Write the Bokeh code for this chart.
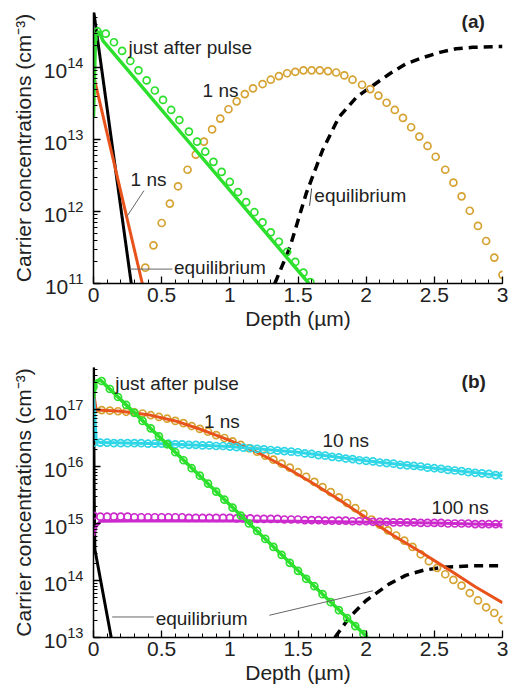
from bokeh.plotting import figure
from bokeh.layouts import column
from bokeh.models import Label, SingleIntervalTicker, LogTicker, NumeralTickFormatter
from bokeh.embed import file_html
from bokeh.resources import INLINE

# ---------------- Panel (a) data (depth in um, log10 of concentration in cm^-3) ----------------
A_EQ_E_X = [0.0, 0.277]
A_EQ_E_LOG = [14.80, 11.0]

A_1NS_E_X = [0.0, 0.358]
A_1NS_E_LOG = [13.89, 11.0]

A_PULSE_LINE_X = [0.0, 0.015, 0.04, 0.07, 1.58]
A_PULSE_LINE_LOG = [13.30, 14.45, 14.50, 14.37, 11.0]

A_PULSE_PTS_X = [0.00, 0.03, 0.09, 0.15, 0.21, 0.27, 0.33, 0.39, 0.45, 0.51, 0.57, 0.63, 0.70,
                 0.76, 0.82, 0.88, 0.94, 1.00, 1.06, 1.12, 1.18, 1.24, 1.30, 1.36, 1.42, 1.48,
                 1.54, 1.59]
A_PULSE_PTS_LOG = [14.40, 14.50, 14.47, 14.35, 14.23, 14.09, 13.96, 13.82, 13.68, 13.55, 13.41,
                   13.27, 13.11, 12.97, 12.83, 12.69, 12.55, 12.41, 12.27, 12.13, 11.99, 11.85,
                   11.71, 11.58, 11.44, 11.30, 11.15, 11.02]

A_1NS_H_X = [0.38, 0.44, 0.50, 0.56, 0.62, 0.69, 0.75, 0.81, 0.87, 0.93, 0.99, 1.05, 1.11, 1.17,
             1.24, 1.30, 1.36, 1.42, 1.48, 1.54, 1.60, 1.66, 1.72, 1.78, 1.84, 1.90, 1.97, 2.03,
             2.09, 2.15, 2.21, 2.27, 2.33, 2.39, 2.45, 2.51, 2.58, 2.64, 2.70, 2.76, 2.82, 2.88,
             2.94, 3.00]
A_1NS_H_LOG = [11.22, 11.53, 11.84, 12.11, 12.35, 12.58, 12.79, 12.97, 13.14, 13.29, 13.42, 13.53,
               13.63, 13.71, 13.77, 13.83, 13.88, 13.92, 13.94, 13.96, 13.96, 13.96, 13.95, 13.93,
               13.89, 13.83, 13.76, 13.70, 13.61, 13.51, 13.41, 13.30, 13.17, 13.04, 12.91, 12.76,
               12.58, 12.40, 12.21, 12.01, 11.80, 11.59, 11.36, 11.12]

A_EQ_H_X = [1.33, 1.44, 1.56, 1.68, 1.80, 1.93, 2.05, 2.17, 2.29, 2.42, 2.54, 2.66, 2.78, 2.96, 3.00]
A_EQ_H_LOG = [11.0, 11.50, 12.25, 12.85, 13.31, 13.59, 13.75, 13.91, 14.05, 14.14, 14.21, 14.26,
              14.28, 14.29, 14.29]

# ---------------- Panel (b) data ----------------
B_EQ_E_X = [0.0, 0.005, 0.01, 0.13]
B_EQ_E_LOG = [17.9, 15.5, 14.55, 13.0]

B_PULSE_LINE_X = [0.0, 0.02, 0.05, 0.08, 2.01]
B_PULSE_LINE_LOG = [17.20, 17.50, 17.52, 17.45, 13.0]

B_PULSE_PTS_X = [0.00, 0.06, 0.12, 0.18, 0.24, 0.30, 0.36, 0.42, 0.48, 0.54, 0.60, 0.66, 0.72,
                 0.78, 0.84, 0.90, 0.96, 1.02, 1.08, 1.14, 1.20, 1.26, 1.32, 1.38, 1.44, 1.50,
                 1.56, 1.62, 1.68, 1.74, 1.80, 1.86, 1.92, 1.98]
B_PULSE_PTS_LOG = [17.40, 17.50, 17.36, 17.22, 17.08, 16.94, 16.80, 16.67, 16.53, 16.39, 16.25,
                   16.11, 15.97, 15.84, 15.70, 15.56, 15.42, 15.28, 15.14, 15.00, 14.87, 14.73,
                   14.59, 14.45, 14.31, 14.17, 14.03, 13.90, 13.76, 13.62, 13.48, 13.34, 13.20,
                   13.06]

B_1NS_LINE_X = [0.0, 0.02, 0.2, 0.4, 0.6, 0.8, 1.0, 1.2, 1.4, 1.6, 1.8, 2.0, 2.2, 2.4, 2.6, 2.8, 3.0]
B_1NS_LINE_LOG = [17.30, 16.99, 16.97, 16.91, 16.80, 16.64, 16.46, 16.25, 16.00, 15.72, 15.42,
                  15.10, 14.79, 14.50, 14.20, 13.89, 13.61]

B_1NS_PTS_X = [0.00, 0.06, 0.12, 0.18, 0.24, 0.30, 0.36, 0.42, 0.48, 0.54, 0.60, 0.66, 0.72, 0.78,
               0.84, 0.90, 0.96, 1.02, 1.08, 1.14, 1.20, 1.26, 1.32, 1.38, 1.44, 1.50, 1.56, 1.62,
               1.68, 1.74, 1.80, 1.86, 1.92, 1.98, 2.04, 2.10, 2.16, 2.22, 2.28, 2.34, 2.40, 2.46,
               2.52, 2.58, 2.64, 2.70, 2.76, 2.82, 2.88, 2.94, 3.00]
B_1NS_PTS_LOG = [16.99, 16.99, 16.98, 16.97, 16.96, 16.95, 16.93, 16.90, 16.87, 16.84, 16.80,
                 16.76, 16.71, 16.66, 16.61, 16.55, 16.50, 16.44, 16.38, 16.32, 16.26, 16.19,
                 16.12, 16.05, 15.98, 15.90, 15.82, 15.73, 15.64, 15.55, 15.46, 15.36, 15.27,
                 15.17, 15.07, 14.98, 14.88, 14.79, 14.70, 14.59, 14.46, 14.34, 14.22, 14.11,
                 14.01, 13.91, 13.78, 13.65, 13.53, 13.43, 13.31]

B_FINE_X = [0.00, 0.05, 0.10, 0.15, 0.20, 0.25, 0.30, 0.35, 0.40, 0.45, 0.50, 0.55, 0.60, 0.65,
            0.70, 0.75, 0.80, 0.85, 0.90, 0.95, 1.00, 1.05, 1.10, 1.15, 1.20, 1.25, 1.30, 1.35,
            1.40, 1.45, 1.50, 1.55, 1.60, 1.65, 1.70, 1.75, 1.80, 1.85, 1.90, 1.95, 2.00, 2.05,
            2.10, 2.15, 2.20, 2.25, 2.30, 2.35, 2.40, 2.45, 2.50, 2.55, 2.60, 2.65, 2.70, 2.75,
            2.80, 2.85, 2.90, 2.95, 3.00]

B_10NS_LINE_X = [0.0, 0.02, 0.05, 0.5, 1.0, 1.5, 2.0, 2.5, 3.0]
B_10NS_LINE_LOG = [17.30, 16.45, 16.42, 16.40, 16.35, 16.25, 16.10, 15.97, 15.84]
B_10NS_PTS_LOG = [16.42, 16.42, 16.42, 16.41, 16.41, 16.41, 16.41, 16.41, 16.40, 16.40, 16.40,
                  16.40, 16.39, 16.39, 16.38, 16.38, 16.37, 16.37, 16.36, 16.36, 16.35, 16.34,
                  16.33, 16.32, 16.31, 16.30, 16.29, 16.28, 16.27, 16.26, 16.25, 16.23, 16.22,
                  16.20, 16.19, 16.17, 16.16, 16.14, 16.13, 16.11, 16.10, 16.09, 16.07, 16.06,
                  16.05, 16.03, 16.02, 16.01, 16.00, 15.98, 15.97, 15.96, 15.94, 15.93, 15.92,
                  15.90, 15.89, 15.88, 15.87, 15.85, 15.84]

B_100NS_LINE_X = [0.0, 0.02, 0.05, 0.5, 1.5, 2.5, 3.0]
B_100NS_LINE_LOG = [14.78, 14.95, 15.04, 15.05, 15.04, 15.01, 14.98]
B_100NS_PTS_LOG = [15.14, 15.12, 15.12, 15.12, 15.12, 15.12, 15.11, 15.11, 15.11, 15.11, 15.11,
                   15.11, 15.11, 15.11, 15.10, 15.10, 15.10, 15.10, 15.10, 15.10, 15.10, 15.09,
                   15.09, 15.09, 15.08, 15.08, 15.08, 15.08, 15.07, 15.07, 15.07, 15.06, 15.06,
                   15.06, 15.05, 15.05, 15.05, 15.05, 15.04, 15.04, 15.04, 15.03, 15.03, 15.03,
                   15.02, 15.02, 15.02, 15.02, 15.01, 15.01, 15.01, 15.01, 15.00, 15.00, 15.00,
                   15.00, 14.99, 14.99, 14.99, 14.99, 14.99]

B_EQ_H_X = [1.77, 1.88, 2.00, 2.17, 2.29, 2.42, 2.56, 2.78, 3.00]
B_EQ_H_LOG = [13.0, 13.36, 13.65, 13.94, 14.09, 14.18, 14.23, 14.26, 14.26]

X_TICKS_LABEL = "Depth (\u00b5m)"
Y_LABEL = "Carrier concentrations (cm\u207b\u00b3)"

GREEN = "#2EE02E"
ORANGE = "#E8531C"
GOLD = "#D6A333"
CYAN = "#2ED6E6"
MAGENTA = "#CC2ACC"
FONT = "Liberation Sans"


def pw(logs):
    return [10.0 ** v for v in logs]


def make_fig(height, y_range, top, bottom):
    p = figure(width=510, height=height, y_axis_type="log", x_range=(0, 3), y_range=y_range,
               output_backend="svg", toolbar_location=None,
               min_border_left=93, min_border_right=8, min_border_top=top, min_border_bottom=bottom)
    p.outline_line_color = None
    p.xgrid.visible = False
    p.ygrid.visible = False
    p.xaxis.ticker = SingleIntervalTicker(interval=0.5, num_minor_ticks=5)
    p.xaxis.formatter = NumeralTickFormatter(format="0.[0]")
    p.yaxis.ticker = LogTicker(num_minor_ticks=10)
    for ax in (p.xaxis[0], p.yaxis[0]):
        ax.axis_line_width = 1.5
        ax.major_tick_in = 7
        ax.major_tick_out = 0
        ax.minor_tick_in = 4
        ax.minor_tick_out = 0
        ax.major_tick_line_width = 1.3
        ax.minor_tick_line_width = 1
        ax.major_label_text_font = FONT
        ax.major_label_text_font_size = "21px"
        ax.major_label_text_color = "#222222"
        ax.axis_label_text_font = FONT
        ax.axis_label_text_font_size = "21px"
        ax.axis_label_text_font_style = "normal"
        ax.axis_label_text_color = "#222222"
    p.xaxis.axis_label = X_TICKS_LABEL
    p.yaxis.axis_label = Y_LABEL
    p.xaxis.major_label_standoff = 4
    p.xaxis.axis_label_standoff = 2
    p.yaxis.major_label_standoff = 10
    p.yaxis.axis_label_standoff = 6
    return p


def add_text(p, text, x, ylog, bold=False):
    p.add_layout(Label(x=x, y=10.0 ** ylog, text=text, text_font=FONT, text_font_size="19px",
                       text_font_style="bold" if bold else "normal", text_color="#222222",
                       text_baseline="middle", text_align="left"))


# ---------------- Panel (a) ----------------
pa = make_fig(340, (1e11, 5.8e14), 12, 57)
pa.line(A_EQ_H_X, pw(A_EQ_H_LOG), line_color="black", line_width=3.5, line_dash="9 6")
pa.scatter(A_1NS_H_X, pw(A_1NS_H_LOG), marker="circle", size=7, fill_color=None,
           line_color=GOLD, line_width=1.7)
pa.line(A_EQ_E_X, pw(A_EQ_E_LOG), line_color="black", line_width=3)
pa.line(A_1NS_E_X, pw(A_1NS_E_LOG), line_color=ORANGE, line_width=3)
pa.line(A_PULSE_LINE_X, pw(A_PULSE_LINE_LOG), line_color=GREEN, line_width=3.5)
pa.scatter(A_PULSE_PTS_X, pw(A_PULSE_PTS_LOG), marker="circle", size=7, fill_color=None,
           line_color=GREEN, line_width=1.7)
# leader lines
pa.line([0.37, 0.245], [10 ** 12.29, 10 ** 11.93], line_color="#666666", line_width=1)
pa.line([0.267, 0.578], [10 ** 11.20, 10 ** 11.20], line_color="#666666", line_width=1)
pa.line([1.585, 1.60], [10 ** 12.08, 10 ** 12.32], line_color="#444444", line_width=1)
add_text(pa, "just after pulse", 0.257, 14.28)
add_text(pa, "1 ns", 0.80, 13.68)
add_text(pa, "1 ns", 0.272, 12.44)
add_text(pa, "equilibrium", 0.59, 11.22)
add_text(pa, "equilibrium", 1.62, 12.22)
add_text(pa, "(a)", 2.70, 14.64, bold=True)

# ---------------- Panel (b) ----------------
pb = make_fig(348, (1e13, 5.46e17), 27, 51)
pb.line(B_EQ_H_X, pw(B_EQ_H_LOG), line_color="black", line_width=3.5, line_dash="9 6")
pb.line(B_EQ_E_X, pw(B_EQ_E_LOG), line_color="black", line_width=3)
pb.scatter(B_1NS_PTS_X, pw(B_1NS_PTS_LOG), marker="circle", size=7, fill_color=None,
           line_color=GOLD, line_width=1.7)
pb.line(B_1NS_LINE_X, pw(B_1NS_LINE_LOG), line_color=ORANGE, line_width=3)
pb.scatter(B_FINE_X, pw(B_10NS_PTS_LOG), marker="circle", size=7, fill_color=None,
           line_color=CYAN, line_width=1.7)
pb.line(B_10NS_LINE_X, pw(B_10NS_LINE_LOG), line_color=CYAN, line_width=3)
pb.scatter(B_FINE_X, pw(B_100NS_PTS_LOG), marker="circle", size=7, fill_color=None,
           line_color=MAGENTA, line_width=1.7)
pb.line(B_100NS_LINE_X, pw(B_100NS_LINE_LOG), line_color=MAGENTA, line_width=3)
pb.line(B_PULSE_LINE_X, pw(B_PULSE_LINE_LOG), line_color=GREEN, line_width=3.5)
pb.scatter(B_PULSE_PTS_X, pw(B_PULSE_PTS_LOG), marker="circle", size=7, fill_color=None,
           line_color=GREEN, line_width=1.7)
pb.line([0.137, 0.443], [10 ** 13.36, 10 ** 13.36], line_color="#666666", line_width=1)
pb.line([1.29, 2.05], [10 ** 13.39, 10 ** 13.82], line_color="#666666", line_width=1)
add_text(pb, "just after pulse", 0.16, 17.46)
add_text(pb, "1 ns", 0.81, 16.79)
add_text(pb, "10 ns", 1.68, 16.46)
add_text(pb, "100 ns", 2.48, 15.28)
add_text(pb, "equilibrium", 0.456, 13.33)
add_text(pb, "(b)", 2.70, 17.49, bold=True)

layout = column(pa, pb, spacing=0)
open("out.html", "w").write(file_html(layout, INLINE))
